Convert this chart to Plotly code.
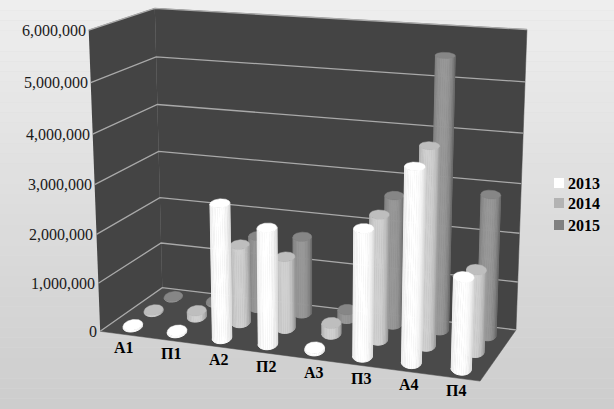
import numpy as np
import plotly.graph_objects as go

# ---- data ----
categories = ["А1", "П1", "А2", "П2", "А3", "П3", "А4", "П4"]
series_names = ["2013", "2014", "2015"]
values_2013 = [30000, 30000, 2730000, 2340000, 40000, 2520000, 3790000, 1790000]
values_2014 = [30000, 130000, 1630000, 1480000, 220000, 2530000, 3960000, 1640000]
values_2015 = [15000, 30000, 1540000, 1620000, 180000, 2660000, 5500000, 2860000]
tick_values = [0, 1000000, 2000000, 3000000, 4000000, 5000000, 6000000]

W, H = 614, 409
ZMAX = 6000000

# camera: projective map from the unit chart box to the page, from the box corners
box_corners = [((0,0,0),(100,331.5)),((0,1,0),(162.5,287.5)),((1,0,0),(480,381)),
               ((1,1,0),(516,330)),((0,0,1),(89,30)),((0,1,1),(154.5,8.5)),((1,1,1),(527,29.5))]
A, b = [], []
for (u, v, w), (px, py) in box_corners:
    A.append([u, v, w, 1, 0, 0, 0, 0, -px*u, -px*v, -px*w]); b.append(px)
    A.append([0, 0, 0, 0, u, v, w, 1, -py*u, -py*v, -py*w]); b.append(py)
P = np.append(np.linalg.lstsq(np.array(A, float), np.array(b, float), rcond=None)[0], 1.0).reshape(3, 4)

def project(cat, row, val):
    cat, row, val = np.broadcast_arrays(np.asarray(cat, float)/8, np.asarray(row, float)/3, np.asarray(val, float)/ZMAX)
    q = P @ np.stack([cat, row, val, np.ones_like(cat)])
    return q[0]/q[2], q[1]/q[2]

fig = go.Figure()

def poly(xs, ys, color, lw=1.0):
    fig.add_trace(go.Scatter(x=list(xs), y=list(ys), mode="lines", fill="toself", fillcolor=color,
                             line=dict(color=color, width=lw), hoverinfo="skip", showlegend=False))

def gray(v):
    v = int(round(min(255, max(0, v))))
    return f"rgb({v},{v},{v})"

# walls and floor
WALL = "#444444"
FLOOR = "#4a4a4a"
x, y = project([0, 0, 0, 0], [0, 3, 3, 0], [0, 0, ZMAX, ZMAX]); poly(x, y, WALL, 0.5)
x, y = project([0, 8, 8, 0], [3, 3, 3, 3], [0, 0, ZMAX, ZMAX]); poly(x, y, WALL, 0.5)
x, y = project([0, 8, 8, 0], [0, 0, 3, 3], [0, 0, 0, 0]); poly(x, y, FLOOR, 0.5)

# gridlines
for t in tick_values:
    x, y = project([0, 0, 8], [0, 3, 3], [t, t, t])
    fig.add_trace(go.Scatter(x=x, y=y, mode="lines", line=dict(color="#a9a9a9", width=1.3),
                             hoverinfo="skip", showlegend=False))

# cylinders, back row first
RIM_CAT = (0.1575, 0.1397)
RIM_ROW = (0.1345, -0.3018)
STRIPS = 16
shades = {  # edge, middle, cap
    "2013": (228, 255, 255),
    "2014": (168, 208, 190),
    "2015": (118, 152, 134),
}
rows = [("2015", values_2015, 2.5), ("2014", values_2014, 1.5), ("2013", values_2013, 0.5)]
theta = np.linspace(0, 2*np.pi, 121)[:-1]
for name, vals, row in rows:
    edge, mid, cap = shades[name]
    for i, v in enumerate(vals):
        cx = i + 0.5
        cs = cx + RIM_CAT[0]*np.cos(theta) + RIM_CAT[1]*np.sin(theta)
        rs = row + RIM_ROW[0]*np.cos(theta) + RIM_ROW[1]*np.sin(theta)
        bx, by = project(cs, rs, 0*theta)
        # silhouette: leftmost and rightmost rim points, front arc between them
        il, ir = int(np.argmin(bx)), int(np.argmax(bx))
        arc = np.arange(il, il + 121) % 120
        arc = arc[:np.where(arc == ir)[0][0] + 1]
        if by[arc].mean() < by.mean():
            arc = np.arange(il, il - 121, -1) % 120
            arc = arc[:np.where(arc == ir)[0][0] + 1]
        tx, ty = project(cs, rs, v + 0*theta)
        idx = np.linspace(0, len(arc) - 1, STRIPS + 1).round().astype(int)
        for k in range(STRIPS):
            seg = arc[idx[k]:idx[k+1] + 1]
            t = ((bx[seg].mean() - bx[il]) / (bx[ir] - bx[il]))
            shade = edge + (mid - edge)*(1 - abs(2*t - 0.9)**3)
            poly(np.r_[bx[seg], tx[seg][::-1]], np.r_[by[seg], ty[seg][::-1]], gray(shade))
        poly(tx, ty, gray(cap), 0.5)

ann = []
serif = "Liberation Serif"
for t in tick_values:
    x, y = project(0, 0, t)
    ann.append(dict(x=float(x), y=float(y), text=f"{t:,}", xanchor="right", yanchor="middle", xshift=-1, yshift=0,
                    showarrow=False, font=dict(family=serif, size=16, color="#1a1a1a")))
# category labels sit evenly along the front floor edge
fx0, fy0 = project(0, 0, 0)
fx1, fy1 = project(8, 0, 0)
for i, c in enumerate(categories):
    f = (i + 0.5)/len(categories)
    ann.append(dict(x=float(fx0 + (fx1 - fx0)*f), y=float(fy0 + (fy1 - fy0)*f), text=f"<b>{c}</b>",
                    xanchor="center", yanchor="middle", yshift=-13,
                    showarrow=False, font=dict(family=serif, size=16, color="#000000")))

# legend
legend_x = 559
legend_y = [183, 203, 225]
legend_cols = ["#ffffff", "#b3b3b3", "#808080"]
fig.add_trace(go.Scatter(x=[legend_x]*3, y=legend_y, mode="markers",
                         marker=dict(symbol="square", size=10, color=legend_cols, line=dict(width=0)),
                         hoverinfo="skip", showlegend=False))
for n, ly in zip(series_names, legend_y):
    ann.append(dict(x=legend_x, y=ly, text=f"<b>{n}</b>", xanchor="left", yanchor="middle", xshift=7,
                    showarrow=False, font=dict(family=serif, size=16, color="#000000")))

# page gradient
BANDS = 40
bands = []
for k in range(BANDS):
    f = k/(BANDS - 1)
    bands.append(dict(type="rect", xref="paper", yref="paper", x0=0, x1=1, y0=1 - (k + 1)/BANDS, y1=1 - k/BANDS,
                      layer="below", line=dict(width=0), fillcolor=gray(238 - 33*f)))

fig.update_layout(width=W, height=H, margin=dict(l=0, r=0, t=0, b=0), showlegend=False,
                  paper_bgcolor="#dddddd", plot_bgcolor="rgba(0,0,0,0)", annotations=ann, shapes=bands,
                  xaxis=dict(range=[0, W], visible=False, fixedrange=True),
                  yaxis=dict(range=[H, 0], visible=False, fixedrange=True))
fig.write_html("out.html", config=dict(displayModeBar=False),
               post_script="document.body.style.margin='0';document.documentElement.style.overflow='hidden';")
